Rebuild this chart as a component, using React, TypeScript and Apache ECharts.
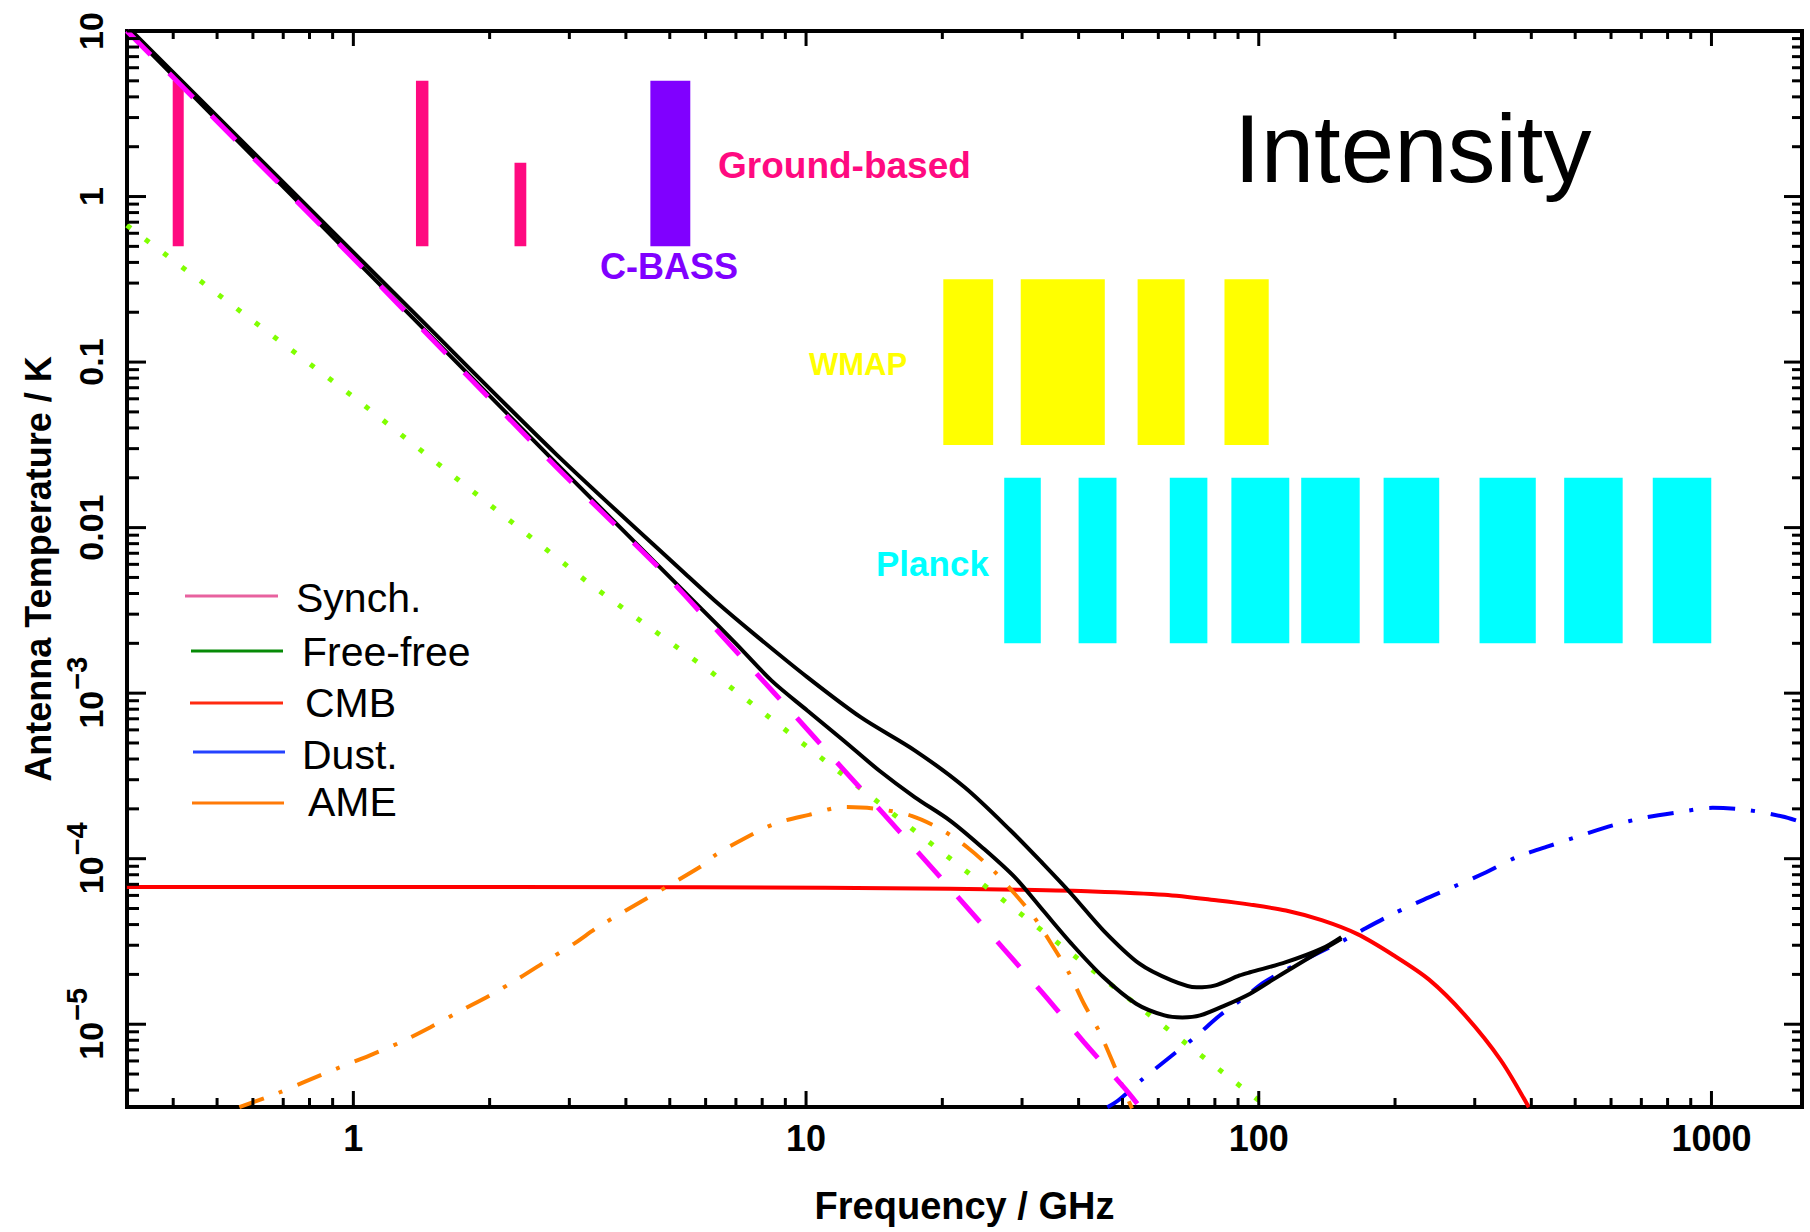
import React, { useEffect, useRef } from 'react';
import * as echarts from 'echarts';

const FONT = '"Liberation Sans", Arial, Helvetica, sans-serif';

// Axis extents (log10: -0.5 .. 3.2 in GHz, -5.5 .. 1 in K)
const X_MIN = 0.316227766;
const X_MAX = 1584.893192;
const Y_MIN = 3.16227766e-6;
const Y_MAX = 10;

// ---------------- tick labels ----------------
const xLabelValues = [1, 10, 100, 1000];
const xLabelTexts = ['1', '10', '100', '1000'];
const yLabelValues = [10, 1, 0.1, 0.01, 1e-3, 1e-4, 1e-5];
const yLabelBase = ['10', '1', '0.1', '0.01', '10', '10', '10'];
const yLabelExp = ['', '', '', '', '\u22123', '\u22124', '\u22125'];
const xMinorSteps = [2, 3, 4, 5, 6, 7, 8, 9];

// ---------------- curves ----------------
const synchFreq = [0.316, 1.03, 2.8, 4.83, 6.16, 7.66, 9.44, 11.6, 14.5, 17.8, 22.0, 27.3, 33.7, 41.1, 50.7, 55.5];
const synchTemp = [10, 0.39, 0.0234, 5.4e-3, 2.63e-3, 1.37e-3, 7.33e-4, 3.92e-4, 2.0e-4, 1.07e-4, 5.58e-5, 2.86e-5, 1.49e-5, 7.8e-6, 4.07e-6, 3.0e-6];

const ffFreq = [0.316, 1.0, 3.36, 6.11, 14.9, 36.2, 95.7, 104.5];
const ffTemp = [0.67, 0.0617, 4.48e-3, 1.37e-3, 2.05e-4, 3.06e-5, 3.8e-6, 3.16e-6];

const cmbFreq = [0.316, 5.83, 20.8, 29.9, 43.0, 61.9, 81.3, 95.7, 114.8, 137.7, 165.2, 198, 237.8, 285, 342, 395];
const cmbTemp = [6.75e-5, 6.73e-5, 6.58e-5, 6.49e-5, 6.34e-5, 6.05e-5, 5.59e-5, 5.28e-5, 4.86e-5, 4.25e-5, 3.5e-5, 2.62e-5, 1.86e-5, 1.14e-5, 6.1e-6, 3.15e-6];

const dustFreq = [46.3, 48.9, 55.5, 63.6, 72.3, 82.0, 93.2, 103, 125.8, 156.4, 171.3, 198, 231, 270, 318, 371, 437, 514, 605, 719, 847, 1006, 1197, 1435, 1543];
const dustTemp = [3.15e-6, 3.46e-6, 4.68e-6, 6.32e-6, 8.35e-6, 1.13e-5, 1.46e-5, 1.8e-5, 2.43e-5, 3.28e-5, 3.77e-5, 4.64e-5, 5.64e-5, 6.79e-5, 8.28e-5, 1.02e-4, 1.19e-4, 1.38e-4, 1.59e-4, 1.78e-4, 1.91e-4, 2.03e-4, 1.97e-4, 1.8e-4, 1.7e-4];

const ameFreq = [0.56, 0.68, 0.787, 0.919, 1.085, 1.268, 1.48, 1.71, 2.0, 2.31, 2.68, 3.08, 3.51, 5.83, 6.33, 7.36, 8.55, 10.15, 12.06, 14.34, 17.04, 19.89, 22.8, 25.9, 28.9, 31.9, 35.2, 38.2, 41.1, 44.5, 47.6, 50.5, 52.5];
const ameTemp = [3.16e-6, 3.83e-6, 4.53e-6, 5.4e-6, 6.47e-6, 7.76e-6, 9.6e-6, 1.19e-5, 1.49e-5, 1.88e-5, 2.43e-5, 3.08e-5, 3.94e-5, 8.9e-5, 1.06e-4, 1.34e-4, 1.63e-4, 1.84e-4, 2.05e-4, 2.0e-4, 1.82e-4, 1.5e-4, 1.16e-4, 8.5e-5, 6.14e-5, 4.43e-5, 2.92e-5, 2.01e-5, 1.33e-5, 8.95e-6, 5.89e-6, 3.94e-6, 3.1e-6];

const totalLowFreq = [0.316, 1.35, 2.8, 5.83, 7.0, 8.39, 10.06, 12.1, 14.5, 17.4, 20.8, 24.5, 28.9, 33.4, 38.6, 45.4, 53.6, 61.9, 67.8, 74.2, 84.3, 95.7, 106.8, 119.2, 135.3, 152.2];
const totalLowTemp = [10.3, 0.186, 0.0246, 3.3e-3, 1.99e-3, 1.19e-3, 7.86e-4, 5.18e-4, 3.41e-4, 2.35e-4, 1.7e-4, 1.17e-4, 7.73e-5, 4.86e-5, 3.06e-5, 1.92e-5, 1.33e-5, 1.13e-5, 1.1e-5, 1.13e-5, 1.3e-5, 1.53e-5, 1.84e-5, 2.21e-5, 2.72e-5, 3.28e-5];

const totalHighFreq = [0.316, 1.35, 2.8, 5.46, 6.28, 7.66, 10.06, 13.2, 17.4, 22.4, 28.3, 33.4, 38.6, 45.4, 54.5, 64.2, 72.9, 79.8, 90.7, 95.7, 114.8, 137.7, 152.2];
const totalHighTemp = [10.7, 0.203, 0.0279, 5.14e-3, 3.63e-3, 2.29e-3, 1.25e-3, 7.16e-4, 4.5e-4, 2.7e-4, 1.48e-4, 9.3e-5, 6.1e-5, 3.68e-5, 2.32e-5, 1.84e-5, 1.67e-5, 1.71e-5, 1.97e-5, 2.06e-5, 2.37e-5, 2.86e-5, 3.36e-5];

// ---------------- instrument bands ----------------
const groundF1 = [0.399, 1.375, 2.27];
const groundF2 = [0.422, 1.465, 2.41];
const groundLow = [0.5, 0.5, 0.5];
const groundHigh = [5, 5, 1.6];

const cbassF1 = [4.53];
const cbassF2 = [5.55];
const cbassLow = [0.5];
const cbassHigh = [5];

const wmapF1 = [20.1, 29.8, 54.0, 84.0];
const wmapF2 = [25.9, 45.7, 68.6, 105.2];
const wmapLow = [0.0316, 0.0316, 0.0316, 0.0316];
const wmapHigh = [0.316, 0.316, 0.316, 0.316];

const planckF1 = [27.4, 40.0, 63.6, 87.0, 124.1, 188.7, 307.4, 472.8, 741.9];
const planckF2 = [33.0, 48.5, 77.0, 116.8, 167.1, 250.4, 409.2, 636.6, 999];
const planckLow = [0.002, 0.002, 0.002, 0.002, 0.002, 0.002, 0.002, 0.002, 0.002];
const planckHigh = [0.02, 0.02, 0.02, 0.02, 0.02, 0.02, 0.02, 0.02, 0.02];

// ---------------- legend ----------------
const legendNames = ['Synch.', 'Free-free', 'CMB', 'Dust.', 'AME'];
const legendColors = ['#e8629f', '#068a06', '#ff2a10', '#2442ff', '#ff7a08'];

// ---------------- helpers ----------------
const pairs = (f: number[], t: number[]) => f.map((v, i) => [v, t[i]]);
const bands = (f1: number[], f2: number[], lo: number[], hi: number[]) =>
  f1.map((v, i) => [v, f2[i], lo[i], hi[i]]);

const isPow10 = (v: number) => {
  const l = Math.log10(v);
  return Math.abs(l - Math.round(l)) < 1e-6;
};

const buildMinor = (lo: number, hi: number, decades: number[]) => {
  const out: number[] = [];
  decades.forEach((d) => {
    xMinorSteps.forEach((k) => {
      const v = k * Math.pow(10, d);
      if (v > lo * 1.0001 && v < hi * 0.9999) out.push(v);
    });
  });
  return out;
};

const xMinor = buildMinor(X_MIN, X_MAX, [-1, 0, 1, 2, 3]);
const yMinor = buildMinor(Y_MIN, Y_MAX, [-6, -5, -4, -3, -2, -1, 0]);

const lineSeries = (
  name: string,
  f: number[],
  t: number[],
  color: string,
  width: number,
  type: any,
  smooth: number
) => ({
  type: 'line',
  name,
  data: pairs(f, t),
  showSymbol: false,
  symbol: 'none',
  smooth,
  clip: true,
  silent: true,
  z: 3,
  lineStyle: { color, width, type, cap: 'butt' },
});

const bandSeries = (name: string, data: number[][], color: string) => ({
  type: 'custom',
  name,
  silent: true,
  z: 1,
  data,
  encode: { x: [0, 1], y: [2, 3] },
  renderItem: (_params: any, api: any) => {
    const p1 = api.coord([api.value(0), api.value(3)]);
    const p2 = api.coord([api.value(1), api.value(2)]);
    return {
      type: 'rect',
      shape: { x: p1[0], y: p1[1], width: p2[0] - p1[0], height: p2[1] - p1[1] },
      style: { fill: color },
    };
  },
});

// legend drawn as graphic lines + texts (positions in px)
const legendLineX1 = [185, 191, 190, 193, 192];
const legendLineX2 = [278, 283, 283, 285, 284];
const legendLineY = [596, 651, 703, 752, 803];
const legendTextX = [296, 302, 305, 302, 308];
const legendTextY = [598, 652, 703, 755, 802];

const Y_LABEL_SIZE = 34;
const Y_EXP_SIZE = 29;
const Y_LABEL_MARGIN = 19;

export default function App() {
  const ref = useRef<HTMLDivElement>(null);

  useEffect(() => {
    if (!ref.current) return;
    const chart = echarts.init(ref.current, null, { renderer: 'svg' });

    const xTickData = [
      ...xLabelValues.map((v) => [v, 1, 1]),
      ...xMinor.map((v) => [v, 0, 1]),
    ];
    const yTickData = [
      ...yLabelValues.map((v) => [1, 1, v]),
      ...yMinor.map((v) => [1, 0, v]),
    ];
    const yExpData = yLabelValues
      .map((v, i) => [X_MIN, v, i])
      .filter((d) => yLabelExp[d[2] as number] !== '');

    const legendGraphics: any[] = [];
    legendNames.forEach((name, i) => {
      legendGraphics.push({
        type: 'line',
        silent: true,
        shape: { x1: legendLineX1[i], y1: legendLineY[i], x2: legendLineX2[i], y2: legendLineY[i] },
        style: { stroke: legendColors[i], lineWidth: 3 },
      });
      legendGraphics.push({
        type: 'text',
        silent: true,
        x: legendTextX[i],
        y: legendTextY[i],
        style: { text: name, fontSize: 41, fontFamily: FONT, fill: '#000', verticalAlign: 'middle', textAlign: 'left' },
      });
    });

    const option: any = {
      animation: false,
      backgroundColor: '#ffffff',
      grid: {
        left: 127,
        top: 31,
        width: 1675,
        height: 1076,
        show: true,
        borderColor: '#000',
        borderWidth: 4,
        backgroundColor: 'transparent',
        containLabel: false,
        outerBoundsMode: 'none',
      },
      xAxis: {
        type: 'log',
        logBase: 10,
        min: X_MIN,
        max: X_MAX,
        axisLine: { show: false },
        axisTick: { show: false },
        splitLine: { show: false },
        minorTick: { show: false },
        minorSplitLine: { show: false },
        axisLabel: {
          margin: 13,
          fontSize: 36,
          fontWeight: 'bold',
          fontFamily: FONT,
          color: '#000',
          formatter: (v: number) => {
            if (!isPow10(v)) return '';
            const i = xLabelValues.findIndex((x) => Math.abs(Math.log10(x) - Math.log10(v)) < 1e-6);
            return i >= 0 ? xLabelTexts[i] : '';
          },
        },
        name: 'Frequency / GHz',
        nameLocation: 'middle',
        nameGap: 80,
        nameTextStyle: { fontSize: 38, fontWeight: 'bold', fontFamily: FONT, color: '#000' },
      },
      yAxis: {
        type: 'log',
        logBase: 10,
        min: Y_MIN,
        max: Y_MAX,
        axisLine: { show: false },
        axisTick: { show: false },
        splitLine: { show: false },
        minorTick: { show: false },
        minorSplitLine: { show: false },
        axisLabel: {
          rotate: 90,
          margin: Y_LABEL_MARGIN,
          fontSize: Y_LABEL_SIZE,
          fontWeight: 'bold',
          fontFamily: FONT,
          color: '#000',
          formatter: (v: number) => {
            if (!isPow10(v)) return '';
            const i = yLabelValues.findIndex((x) => Math.abs(Math.log10(x) - Math.log10(v)) < 1e-6);
            if (i < 0 || yLabelExp[i]) return '';
            return yLabelBase[i];
          },
        },
        name: 'Antenna Temperature / K',
        nameLocation: 'middle',
        nameRotate: 90,
        nameGap: 71,
        nameTextStyle: { fontSize: 36, fontWeight: 'bold', fontFamily: FONT, color: '#000' },
      },
      graphic: [
        {
          type: 'text',
          silent: true,
          x: 1234,
          y: 148,
          style: { text: 'Intensity', fontSize: 96, fontFamily: FONT, fill: '#000', verticalAlign: 'middle', textAlign: 'left' },
        },
        {
          type: 'text',
          silent: true,
          x: 718,
          y: 165,
          style: { text: 'Ground-based', fontSize: 37, fontWeight: 'bold', fontFamily: FONT, fill: '#ff0a80', verticalAlign: 'middle', textAlign: 'left' },
        },
        {
          type: 'text',
          silent: true,
          x: 600,
          y: 266,
          style: { text: 'C-BASS', fontSize: 36, fontWeight: 'bold', fontFamily: FONT, fill: '#8000ff', verticalAlign: 'middle', textAlign: 'left' },
        },
        {
          type: 'text',
          silent: true,
          x: 809,
          y: 364,
          style: { text: 'WMAP', fontSize: 31, fontWeight: 'bold', fontFamily: FONT, fill: '#ffff00', verticalAlign: 'middle', textAlign: 'left' },
        },
        {
          type: 'text',
          silent: true,
          x: 876,
          y: 563,
          style: { text: 'Planck', fontSize: 35, fontWeight: 'bold', fontFamily: FONT, fill: '#00ffff', verticalAlign: 'middle', textAlign: 'left' },
        },
        ...legendGraphics,
      ],
      series: [
        bandSeries('Ground-based', bands(groundF1, groundF2, groundLow, groundHigh), '#ff0a80'),
        bandSeries('C-BASS', bands(cbassF1, cbassF2, cbassLow, cbassHigh), '#8000ff'),
        bandSeries('WMAP', bands(wmapF1, wmapF2, wmapLow, wmapHigh), '#ffff00'),
        bandSeries('Planck', bands(planckF1, planckF2, planckLow, planckHigh), '#00ffff'),
        lineSeries('CMB', cmbFreq, cmbTemp, '#ff0000', 4, 'solid', 0.3),
        lineSeries('Dust.', dustFreq, dustTemp, '#0000ff', 4, [26, 16, 4, 16], 0.3),
        lineSeries('AME', ameFreq, ameTemp, '#ff8000', 4, [26, 16, 4, 16], 0.3),
        lineSeries('Free-free', ffFreq, ffTemp, '#80ff00', 5, [5, 18], 0),
        lineSeries('Total (low)', totalLowFreq, totalLowTemp, '#000000', 4, 'solid', 0.3),
        lineSeries('Total (high)', totalHighFreq, totalHighTemp, '#000000', 4, 'solid', 0.3),
        lineSeries('Synch.', synchFreq, synchTemp, '#ff00ff', 5, [34, 26], 0.2),
        {
          type: 'custom',
          name: 'xTicks',
          silent: true,
          z: 5,
          clip: false,
          data: xTickData,
          encode: { x: 0, y: 2 },
          renderItem: (_p: any, api: any) => {
            const f = api.value(0);
            const major = api.value(1) === 1;
            const b = api.coord([f, Y_MIN]);
            const t = api.coord([f, Y_MAX]);
            const lb = major ? 16 : 9;
            const lt = major ? 15 : 8;
            const st = { stroke: '#000', lineWidth: 3 };
            return {
              type: 'group',
              children: [
                { type: 'line', shape: { x1: b[0], y1: b[1], x2: b[0], y2: b[1] - lb }, style: st },
                { type: 'line', shape: { x1: t[0], y1: t[1], x2: t[0], y2: t[1] + lt }, style: st },
              ],
            };
          },
        },
        {
          type: 'custom',
          name: 'yTicks',
          silent: true,
          z: 5,
          clip: false,
          data: yTickData,
          encode: { x: 0, y: 2 },
          renderItem: (_p: any, api: any) => {
            const v = api.value(2);
            const major = api.value(1) === 1;
            const l = api.coord([X_MIN, v]);
            const r = api.coord([X_MAX, v]);
            const ll = major ? 19 : 12;
            const lr = major ? 18 : 10;
            const st = { stroke: '#000', lineWidth: 3 };
            return {
              type: 'group',
              children: [
                { type: 'line', shape: { x1: l[0], y1: l[1], x2: l[0] + ll, y2: l[1] }, style: st },
                { type: 'line', shape: { x1: r[0], y1: r[1], x2: r[0] - lr, y2: r[1] }, style: st },
              ],
            };
          },
        },
        {
          // power-of-ten tick labels with raised exponents (10^-3 ... 10^-5)
          type: 'custom',
          name: 'yExpLabels',
          silent: true,
          z: 5,
          clip: false,
          data: yExpData,
          encode: { x: 0, y: 1 },
          renderItem: (_p: any, api: any) => {
            const i = api.value(2);
            const p = api.coord([X_MIN, api.value(1)]);
            const base = yLabelBase[i];
            const exp = yLabelExp[i];
            const wBase = base.length * 0.556 * Y_LABEL_SIZE;
            const wExp = (0.584 + 0.556 * (exp.length - 1)) * Y_EXP_SIZE;
            const w = wBase + wExp;
            const txt = { fontWeight: 'bold', fontFamily: FONT, fill: '#000', textAlign: 'left', verticalAlign: 'bottom' };
            return {
              type: 'group',
              x: p[0] - Y_LABEL_MARGIN,
              y: p[1],
              rotation: Math.PI / 2,
              children: [
                { type: 'text', x: -w / 2, y: 0, style: { ...txt, text: base, fontSize: Y_LABEL_SIZE } },
                { type: 'text', x: -w / 2 + wBase + 1, y: -17, style: { ...txt, text: exp, fontSize: Y_EXP_SIZE } },
              ],
            };
          },
        },
      ],
    };

    chart.setOption(option);
    return () => {
      chart.dispose();
    };
  }, []);

  return (
    <div
      ref={ref}
      style={{ position: 'fixed', left: 0, top: 0, width: 1810, height: 1232, background: '#fff' }}
    />
  );
}
